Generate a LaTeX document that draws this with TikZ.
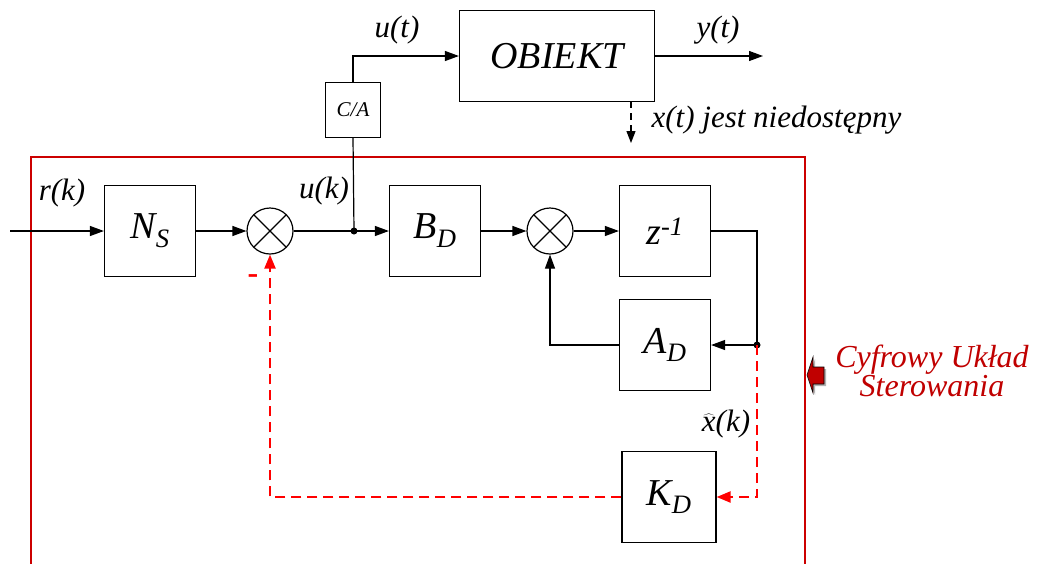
\documentclass[tikz,border=0pt]{standalone}
\usepackage{fontspec}
\setmainfont{Liberation Serif}
\usetikzlibrary{arrows.meta, positioning, calc}
\definecolor{cred}{HTML}{CC0000}
\definecolor{cdash}{HTML}{FF0000}
\definecolor{ctext}{HTML}{C00000}
\tikzset{
  every picture/.style={line width=1.2pt, x=1pt, y=-1pt},
  blok/.style={draw, minimum width=91pt, minimum height=91pt, inner sep=0pt, font=\fontsize{38}{40}\selectfont\itshape},
  sumator/.style={circle, draw, minimum size=46pt, inner sep=0pt,
    path picture={\draw (path picture bounding box.north west) -- (path picture bounding box.south east)
                        (path picture bounding box.north east) -- (path picture bounding box.south west);}},
  sig/.style={-{Triangle[length=14pt, width=10pt]}},
  fb/.style={draw=cdash, line width=2.2pt, dash pattern=on 10pt off 6pt, -{Triangle[length=14pt, width=11pt]}},
  lab/.style={font=\fontsize{31}{33}\selectfont\itshape, inner sep=1pt},
}
\newcommand{\dolny}[1]{\textsubscript{#1}}
\begin{document}
\begin{tikzpicture}
  \useasboundingbox (0,0) rectangle (1038,563);
  % obiekt ciagly
  \node[blok, minimum width=195pt] (obj) at (557,56) {OBIEKT};
  \node[draw, minimum size=55pt, inner sep=0pt, font=\fontsize{21}{23}\selectfont\itshape] (ca) at (353,110) {C/A};
  \coordinate (yout) at (763,56);
  \coordinate (xs) at (631,101);
  \coordinate (xe) at (631,143);
  \draw[sig] (ca.north) |- (obj.west);
  \node[lab] (ut) at (397,30) {u(t)};
  \draw[sig] (obj.east) -- (yout);
  \node[lab] (yt) at (718,30) {y(t)};
  \draw[dash pattern=on 7pt off 5pt, -{Triangle[length=12pt, width=9pt]}] (xs) -- (xe);
  \node[lab, anchor=west] (xinfo) at (650,120) {x(t) jest niedostępny};
  % uklad sterowania
  \draw[cred, line width=2pt] (31,570) -- (31,157) -- (805,157) -- (805,570);
  \coordinate (in) at (10,231);
  \node[blok] (ns) at (150,231) {N\dolny{S}};
  \node[sumator] (sum1) at (270,231) {};
  \coordinate (j1) at (354,231);
  \node[blok] (bd) at (435,231) {B\dolny{D}};
  \node[sumator] (sum2) at (550,231) {};
  \node[blok] (zinv) at (665,231) {z\textsuperscript{-1}};
  \node[blok] (ad) at (665,345) {A\dolny{D}};
  \coordinate (j2) at (757,345);
  \node[blok, minimum width=94pt] (kd) at (669,497) {K\dolny{D}};
  \draw[sig] (in) -- (ns.west);
  \node[lab] (rk) at (62,193) {r(k)};
  \draw[sig] (ns) -- (sum1);
  \draw (sum1) -- (j1);
  \draw[sig] (j1) -- (bd);
  \node[lab] (uk) at (324,191) {u(k)};
  \draw (j1) -- (ca.south);
  \draw[sig] (bd) -- (sum2);
  \draw[sig] (sum2) -- (zinv);
  \draw (zinv.east) -| (j2);
  \draw[sig] (j2) -- (ad.east);
  \draw[sig] (ad.west) -| (sum2.south);
  \fill (j1) circle (3.5pt) (j2) circle (3.5pt);
  % sprzezenie od stanu
  \draw[fb] (j2) |- (kd.east);
  \draw[fb] (kd.west) -| (sum1.south);
  \node[text=cdash, font=\fontsize{32}{32}\selectfont\bfseries] (minus) at (253,279) {-};
  \node[lab] (xhat) at (726,424) {$\widehat{\mbox{\itshape x}}$(k)};
  % opis
  \fill[gray!60] (809,377) -- (815,359) -- (815,369) -- (826,369) -- (826,386) -- (815,386) -- (815,395) -- cycle;
  \filldraw[fill=ctext, draw=black, line width=0.6pt] (807,375) -- (813,357) -- (813,367) -- (824,367) -- (824,384) -- (813,384) -- (813,393) -- cycle;
  \node[text=ctext, align=center, font=\fontsize{32}{29}\selectfont\itshape] (cus) at (932,371) {Cyfrowy Układ\\Sterowania};
\end{tikzpicture}
\end{document}
